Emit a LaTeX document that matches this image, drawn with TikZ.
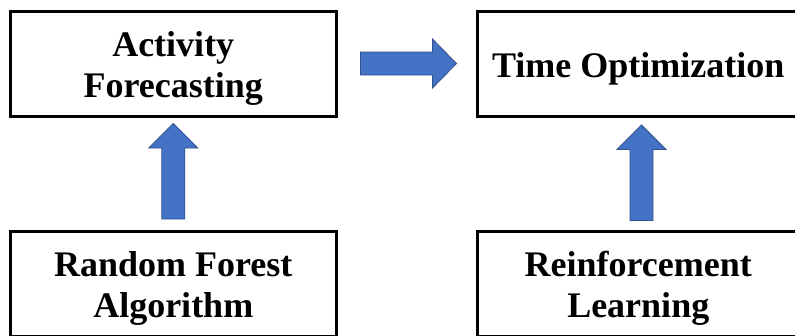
\documentclass[tikz,border=0pt]{standalone}
\usepackage{fontspec}
\setmainfont{Liberation Serif}
\usetikzlibrary{calc}
\definecolor{arrowfill}{HTML}{4472C4}
\definecolor{arrowline}{HTML}{2F528F}
\begin{document}
\begin{tikzpicture}[x=1pt,y=-1pt,
  box/.style={draw=black, line width=3pt, fill=white,
    minimum width=325.5pt, minimum height=105pt, inner sep=0pt},
  boxtext/.style={align=center, inner sep=0pt,
    font=\fontsize{36}{41}\selectfont\bfseries},
  blockarrow/.style={fill=arrowfill, draw=arrowline, line width=0.8pt, line join=miter}]
\useasboundingbox (0,0) rectangle (795,335);
\clip (0,0) rectangle (795,335);

% process boxes
\node[box] (af) at (173.25,64)  {};
\node[box] (to) at (640.25,64)  {};
\node[box] (rf) at (173.25,284) {};
\node[box] (rl) at (640.25,284) {};

% box captions, set slightly below the box centres
\node[boxtext] (afT) at ($(af.center)+(0,4.5)$) {Activity\\Forecasting};
\node[boxtext] (toT) at ($(to.center)+(-2,4.5)$) {Time Optimization};
\node[boxtext] (rfT) at ($(rf.center)+(0,4.5)$) {Random Forest\\Algorithm};
\node[boxtext] (rlT) at ($(rl.center)+(-2,4.5)$) {Reinforcement\\Learning};

% anchor points for the block arrows
\coordinate (upL) at ($(rf.north)+(0,-11)$);
\coordinate (upR) at ($(rl.north)+(1.25,-9.5)$);
\coordinate (rt)  at ($(af.east)+(23,-0.5)$);

% upward block arrows
\draw[blockarrow] (upL) ++(-11.5,0) -- ++(0,-71) -- ++(-13,0) -- ++(24.5,-24.5)
  -- ++(24.5,24.5) -- ++(-13,0) -- ++(0,71) -- cycle;
\draw[blockarrow] (upR) ++(-11.5,0) -- ++(0,-71) -- ++(-13,0) -- ++(24.5,-24.5)
  -- ++(24.5,24.5) -- ++(-13,0) -- ++(0,71) -- cycle;

% rightward block arrow
\draw[blockarrow] (rt) ++(0,-11.5) -- ++(72,0) -- ++(0,-13) -- ++(24,24.5)
  -- ++(-24,24.5) -- ++(0,-13) -- ++(-72,0) -- cycle;
\end{tikzpicture}
\end{document}
